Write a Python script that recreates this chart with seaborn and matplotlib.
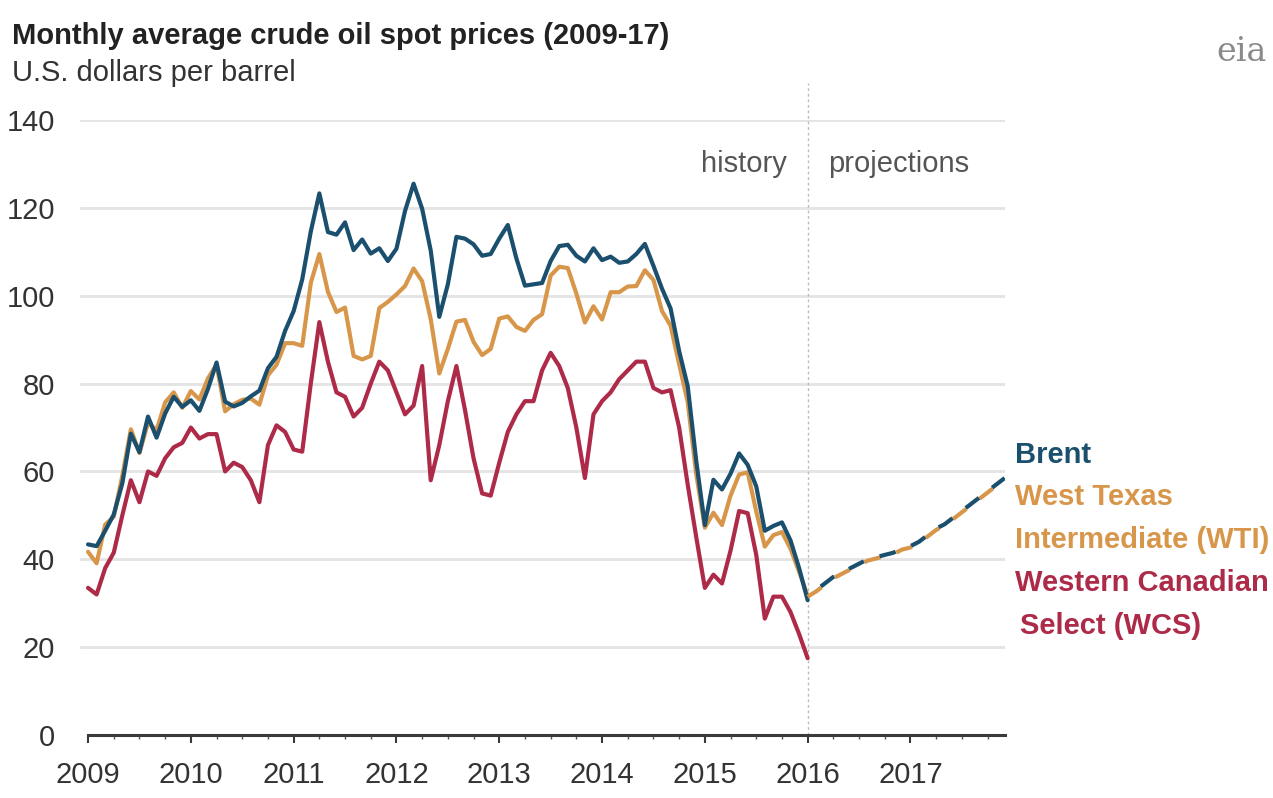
import numpy as np
import pandas as pd
import matplotlib
matplotlib.use('Agg')
import matplotlib.pyplot as plt
import seaborn as sns

# monthly history Jan 2009 - Jan 2016, projections Jan 2016 - Dec 2017
hist_months = pd.date_range('2009-01-01', '2016-01-01', freq='MS')
proj_months = pd.date_range('2016-01-01', '2017-12-01', freq='MS')

brent = [43.4, 43.0, 46.5, 50.2, 57.3, 68.6, 64.4, 72.5, 67.7, 73.2, 77.0, 74.7,
         76.2, 73.8, 78.8, 84.8, 75.9, 74.8, 75.6, 77.1, 78.4, 83.5, 86.1, 92.0,
         96.5, 103.7, 114.6, 123.3, 114.5, 113.9, 116.7, 110.4, 112.8, 109.6, 110.8, 107.9,
         110.7, 119.3, 125.5, 119.8, 110.3, 95.2, 102.6, 113.4, 113.0, 111.7, 109.1, 109.5,
         113.0, 116.1, 108.5, 102.3, 102.6, 102.9, 107.9, 111.3, 111.6, 109.1, 107.8, 110.8,
         108.1, 108.9, 107.5, 107.8, 109.5, 111.8, 106.8, 101.6, 97.1, 87.4, 79.4, 62.3,
         47.8, 58.1, 55.9, 59.5, 64.1, 61.5, 56.6, 46.5, 47.6, 48.4, 44.3, 38.0,
         30.7]

wti = [41.7, 39.1, 47.9, 49.7, 59.0, 69.6, 64.2, 71.1, 69.4, 75.7, 78.0, 74.5,
       78.3, 76.4, 81.2, 84.3, 73.7, 75.3, 76.3, 76.6, 75.2, 81.9, 84.3, 89.2,
       89.2, 88.6, 102.9, 109.5, 100.9, 96.3, 97.3, 86.3, 85.5, 86.3, 97.2, 98.6,
       100.3, 102.2, 106.2, 103.3, 94.7, 82.3, 87.9, 94.1, 94.5, 89.5, 86.5, 87.9,
       94.8, 95.3, 92.9, 92.0, 94.5, 95.8, 104.6, 106.6, 106.3, 100.5, 93.9, 97.6,
       94.6, 100.8, 100.8, 102.1, 102.2, 105.8, 103.6, 96.5, 93.2, 84.4, 75.8, 59.3,
       47.2, 50.6, 47.8, 54.5, 59.3, 59.8, 50.9, 42.9, 45.5, 46.2, 42.4, 37.2,
       31.7]

wcs = [33.5, 32.0, 38.0, 41.5, 50.0, 58.0, 53.0, 60.0, 59.0, 63.0, 65.5, 66.5,
       70.0, 67.5, 68.5, 68.5, 60.0, 62.0, 61.0, 58.0, 53.0, 66.0, 70.5, 69.0,
       65.0, 64.5, 80.0, 94.0, 85.0, 78.0, 77.0, 72.5, 74.5, 80.0, 85.0, 83.0,
       78.0, 73.0, 75.0, 84.0, 58.0, 66.0, 76.0, 84.0, 74.0, 63.0, 55.0, 54.5,
       62.0, 69.0, 73.0, 76.0, 76.0, 83.0, 87.0, 84.0, 79.0, 70.0, 58.5, 73.0,
       76.0, 78.0, 81.0, 83.0, 85.0, 85.0, 79.0, 78.0, 78.5, 70.0, 57.0, 45.0,
       33.5, 36.5, 34.5, 42.0, 51.0, 50.5, 41.0, 26.5, 31.5, 31.5, 28.0, 23.0,
       17.5]

brent_proj = [31.5, 33.0, 34.5, 36.0, 37.0, 38.0, 39.0, 40.0, 40.5, 41.0, 41.5, 42.5,
              43.0, 44.0, 45.5, 47.0, 48.0, 49.5, 51.0, 52.5, 54.0, 55.5, 57.0, 58.5]
wti_proj = [31.5, 32.7, 34.2, 35.7, 36.7, 37.7, 38.7, 39.7, 40.2, 40.7, 41.2, 42.2,
            42.7, 43.7, 45.2, 46.7, 47.7, 49.2, 50.7, 52.2, 53.7, 55.2, 56.7, 58.2]

year_ticks = list(range(2009, 2018))
y_ticks = [0, 20, 40, 60, 80, 100, 120, 140]

c_brent = '#1b4f6e'
c_wti = '#d8964a'
c_wcs = '#ad2a48'
fs = 21


def frac_year(months):
    return months.year + (months.month - 1) / 12


hist = pd.DataFrame({
    't': np.tile(frac_year(hist_months), 3),
    'price': brent + wti + wcs,
    'series': ['Brent'] * len(brent) + ['WTI'] * len(wti) + ['WCS'] * len(wcs),
})

sns.set_theme(style='white')
plt.rcParams['font.family'] = ['Liberation Sans', 'DejaVu Sans']

fig = plt.figure(figsize=(12.73, 7.98), dpi=100)
ax = fig.add_axes([0.0627, 0.0789, 0.7268, 0.7707])

for y in y_ticks[1:]:
    ax.axhline(y, color='#e4e4e4', lw=2, zorder=0)
ax.axvline(2016, ymin=0, ymax=1.06, color='#bdbdbd', lw=1, ls=(0, (2, 2)), zorder=1, clip_on=False)

sns.lineplot(data=hist, x='t', y='price', hue='series',
             palette={'Brent': c_brent, 'WTI': c_wti, 'WCS': c_wcs},
             hue_order=['WCS', 'WTI', 'Brent'], lw=3, legend=False, ax=ax)

pt = frac_year(proj_months)
sns.lineplot(x=pt, y=wti_proj, color=c_wti, lw=3, ax=ax)
ax.lines[-1].set_linestyle((0, (4, 4)))
sns.lineplot(x=pt, y=brent_proj, color=c_brent, lw=3, ax=ax)
ax.lines[-1].set_linestyle((4, (4, 4)))

ax.set_xlim(2008.92, 2017.92)
ax.set_ylim(0, 140)
ax.set_xticks(year_ticks)
ax.set_xticklabels([str(y) for y in year_ticks])
ax.set_xticks(np.arange(2009, 2018, 0.25), minor=True)
ax.set_yticks(y_ticks)
ax.set_yticklabels([str(y) for y in y_ticks])
ax.set_xlabel('')
ax.set_ylabel('')

for s in ['top', 'right', 'left']:
    ax.spines[s].set_visible(False)
ax.spines['bottom'].set_color('#3a3a3a')
ax.spines['bottom'].set_linewidth(2.2)
ax.spines['bottom'].set_bounds(2009, 2017.92)

ax.tick_params(axis='x', which='major', bottom=True, length=6, width=1.5, color='#3a3a3a',
               labelsize=fs, labelcolor='#333333', pad=13)
ax.tick_params(axis='x', which='minor', bottom=True, length=3, width=1, color='#555555')
ax.tick_params(axis='y', left=False, labelsize=fs, labelcolor='#333333', pad=12)

ax.text(2015.8, 130, 'history', ha='right', va='center', fontsize=fs, color='#555555')
ax.text(2016.2, 130, 'projections', ha='left', va='center', fontsize=fs, color='#555555')

fig.text(0.0094, 0.955, 'Monthly average crude oil spot prices (2009-17)', ha='left', va='center',
         fontsize=fs, fontweight='bold', color='#222222')
fig.text(0.0094, 0.908, 'U.S. dollars per barrel', ha='left', va='center', fontsize=fs, color='#333333')
fig.text(0.975, 0.935, 'eia', ha='center', va='center', fontsize=24, color='#8a8a8a', family='DejaVu Serif')

fig.text(0.797, 0.430, 'Brent', ha='left', va='center', fontsize=fs, fontweight='bold', color=c_brent)
fig.text(0.797, 0.377, 'West Texas', ha='left', va='center', fontsize=fs, fontweight='bold', color=c_wti)
fig.text(0.797, 0.323, 'Intermediate (WTI)', ha='left', va='center', fontsize=fs, fontweight='bold', color=c_wti)
fig.text(0.797, 0.269, 'Western Canadian', ha='left', va='center', fontsize=fs, fontweight='bold', color=c_wcs)
fig.text(0.801, 0.216, 'Select (WCS)', ha='left', va='center', fontsize=fs, fontweight='bold', color=c_wcs)

fig.savefig('out.png', dpi=100)
